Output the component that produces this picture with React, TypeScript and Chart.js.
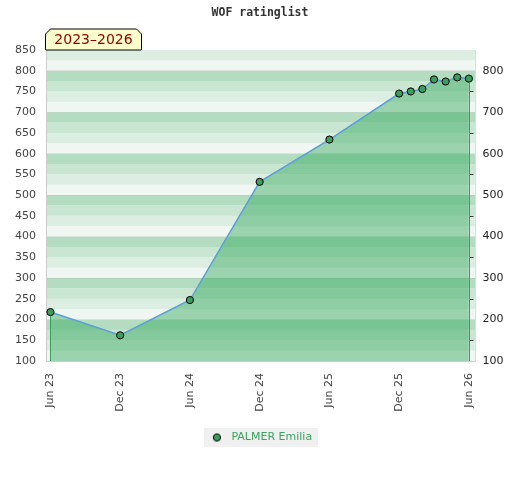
import React, { useEffect, useRef } from "react";
import { Chart, registerables } from "chart.js";

Chart.register(...registerables);

const chartTitle = "WOF ratinglist";
const periodLabel = "2023–2026";
const seriesName = "PALMER Emilia";
// months since Jun 2023
const monthOffsets = [0, 6, 12, 18, 24, 30, 31, 32, 33, 34, 35, 36];
const ratings = [218, 162, 247, 532, 634, 745, 750, 756, 779, 774, 784, 781];
const tickMonths = [0, 6, 12, 18, 24, 30, 36];
const tickLabels = ["Jun 23", "Dec 23", "Jun 24", "Dec 24", "Jun 25", "Dec 25", "Jun 26"];
const yMin = 100;
const yMax = 850;
const stripeColors = ["#f0f7f2", "#dcede2", "#c8e6d2", "#b3dcc1"];

const FONT = "'DejaVu Sans', sans-serif";

function makeLegendPoint(): HTMLCanvasElement {
  const c = document.createElement("canvas");
  c.width = 10;
  c.height = 10;
  const g = c.getContext("2d")!;
  g.beginPath();
  g.arc(5, 5, 3.6, 0, Math.PI * 2);
  g.fillStyle = "#3c9e5c";
  g.fill();
  g.lineWidth = 1;
  g.strokeStyle = "#000";
  g.stroke();
  return c;
}

const decorPlugin = {
  id: "decor",
  beforeDraw(chart: any) {
    const { ctx, chartArea } = chart;
    const y = chart.scales.y;
    ctx.save();
    ctx.beginPath();
    ctx.rect(chartArea.left, chartArea.top, chartArea.right - chartArea.left, chartArea.bottom - chartArea.top);
    ctx.clip();
    for (let v = yMin; v < yMax; v += 25) {
      const q = Math.round(((v % 100) + 100) % 100 / 25);
      const top = y.getPixelForValue(v + 25);
      const bot = y.getPixelForValue(v);
      ctx.fillStyle = stripeColors[q];
      ctx.fillRect(chartArea.left, top, chartArea.right - chartArea.left, bot - top);
    }
    ctx.restore();

    // legend background
    const lg = chart.legend;
    if (lg && lg.legendHitBoxes && lg.legendHitBoxes.length) {
      const hb = lg.legendHitBoxes[0];
      ctx.save();
      ctx.fillStyle = "#f0f0f0";
      ctx.fillRect(hb.left - 4, hb.top - 4, hb.width + 10, hb.height + 8);
      ctx.restore();
    }
  },
  afterDatasetsDraw(chart: any) {
    const { ctx, chartArea } = chart;
    const meta = chart.getDatasetMeta(0);
    const pts = meta.data;
    ctx.save();
    ctx.strokeStyle = "#35a057";
    ctx.lineWidth = 1;
    [pts[0], pts[pts.length - 1]].forEach((p: any) => {
      const x = Math.round(p.x) + 0.5;
      ctx.beginPath();
      ctx.moveTo(x, p.y + 4);
      ctx.lineTo(x, chartArea.bottom);
      ctx.stroke();
    });
    // minor ticks on right axis
    const y2 = chart.scales.y2;
    ctx.strokeStyle = "#333";
    for (let v = yMin + 50; v < yMax - 50; v += 100) {
      const py = Math.round(y2.getPixelForValue(v)) + 0.5;
      ctx.beginPath();
      ctx.moveTo(chartArea.right - 5.5, py);
      ctx.lineTo(chartArea.right - 2, py);
      ctx.stroke();
    }
    ctx.restore();
  },
  afterDraw(chart: any) {
    const { ctx, chartArea } = chart;
    const l = chartArea.left - 0.5;
    const r = l + 96;
    const b = chartArea.top;
    const t = b - 21;
    const c = 5;
    ctx.save();
    ctx.beginPath();
    ctx.moveTo(l, b);
    ctx.lineTo(l, t + c);
    ctx.lineTo(l + c, t);
    ctx.lineTo(r - c, t);
    ctx.lineTo(r, t + c);
    ctx.lineTo(r, b);
    ctx.closePath();
    ctx.fillStyle = "#ffffcc";
    ctx.fill();
    ctx.strokeStyle = "#000";
    ctx.lineWidth = 1;
    ctx.stroke();
    ctx.fillStyle = "#8b0000";
    ctx.font = "14px " + FONT;
    ctx.textAlign = "center";
    ctx.textBaseline = "middle";
    ctx.fillText(periodLabel, (l + r) / 2, t + 11.5);
    ctx.restore();
  },
};

export default function App() {
  const ref = useRef<HTMLCanvasElement | null>(null);
  useEffect(() => {
    if (!ref.current) return;
    const data = monthOffsets.map((m, i) => ({ x: m, y: ratings[i] }));
    const chart = new Chart(ref.current, {
      type: "line",
      data: {
        datasets: [
          {
            label: seriesName,
            data,
            borderColor: "#5aa0d8",
            borderWidth: 1.5,
            backgroundColor: "rgba(49,167,89,0.45)",
            fill: "start",
            tension: 0,
            pointRadius: 3.6,
            pointHoverRadius: 3.6,
            pointBackgroundColor: "#3c9e5c",
            pointBorderColor: "#000",
            pointBorderWidth: 1,
          },
        ],
      },
      options: {
        responsive: false,
        animation: false,
        layout: { padding: { bottom: 27, left: 0, right: 0, top: 0 } },
        plugins: {
          title: {
            display: true,
            text: chartTitle,
            color: "#333",
            font: { family: "'DejaVu Sans Mono', monospace", weight: "bold", size: 11.5 },
            padding: { top: 6, bottom: 30.2 },
          },
          legend: {
            position: "bottom",
            labels: {
              usePointStyle: true,
              pointStyle: makeLegendPoint() as any,
              pointStyleWidth: 18,
              boxHeight: 11,
              padding: 6,
              color: "#3aa35e",
              font: { family: FONT, size: 11 },
            },
          },
          tooltip: { enabled: false },
        },
        scales: {
          x: {
            type: "linear",
            min: -0.38,
            max: 36.57,
            afterBuildTicks: (s: any) => {
              s.ticks = tickMonths.map((v) => ({ value: v }));
            },
            afterFit: (s: any) => {
              s.height = 65;
            },
            ticks: {
              autoSkip: false,
              maxRotation: 90,
              minRotation: 90,
              padding: 12,
              color: "#444",
              font: { family: FONT, size: 11 },
              callback: (v: any) => {
                const i = tickMonths.indexOf(Number(v));
                return i >= 0 ? tickLabels[i] : "";
              },
            },
            grid: { display: false, drawTicks: false },
            border: { color: "#cccccc", width: 1 },
          },
          y: {
            position: "left",
            min: yMin,
            max: yMax,
            afterFit: (s: any) => {
              s.width = 46;
            },
            ticks: {
              stepSize: 50,
              padding: 10,
              color: "#444",
              font: { family: FONT, size: 11 },
            },
            grid: {
              drawTicks: false,
              color: (c: any) => (c.tick && c.tick.value % 100 === 0 ? "rgba(0,0,0,0.07)" : "rgba(0,0,0,0)"),
            },
            border: { color: "#cccccc", width: 1 },
          },
          y2: {
            position: "right",
            min: yMin,
            max: yMax,
            afterFit: (s: any) => {
              s.width = 44.5;
            },
            ticks: {
              stepSize: 50,
              padding: 7,
              color: "#222",
              font: { family: FONT, size: 11 },
              callback: (v: any) => (Number(v) % 100 === 0 && Number(v) <= 800 ? String(v) : ""),
            },
            grid: { drawOnChartArea: false, drawTicks: false },
            border: { color: "#dddddd", width: 1 },
          },
        },
      } as any,
      plugins: [decorPlugin],
    });
    return () => chart.destroy();
  }, []);
  return (
    <div style={{ position: "fixed", left: 0, top: 0, width: 520, height: 480, background: "#fff" }}>
      <canvas ref={ref} width={520} height={480} style={{ display: "block" }} />
    </div>
  );
}
